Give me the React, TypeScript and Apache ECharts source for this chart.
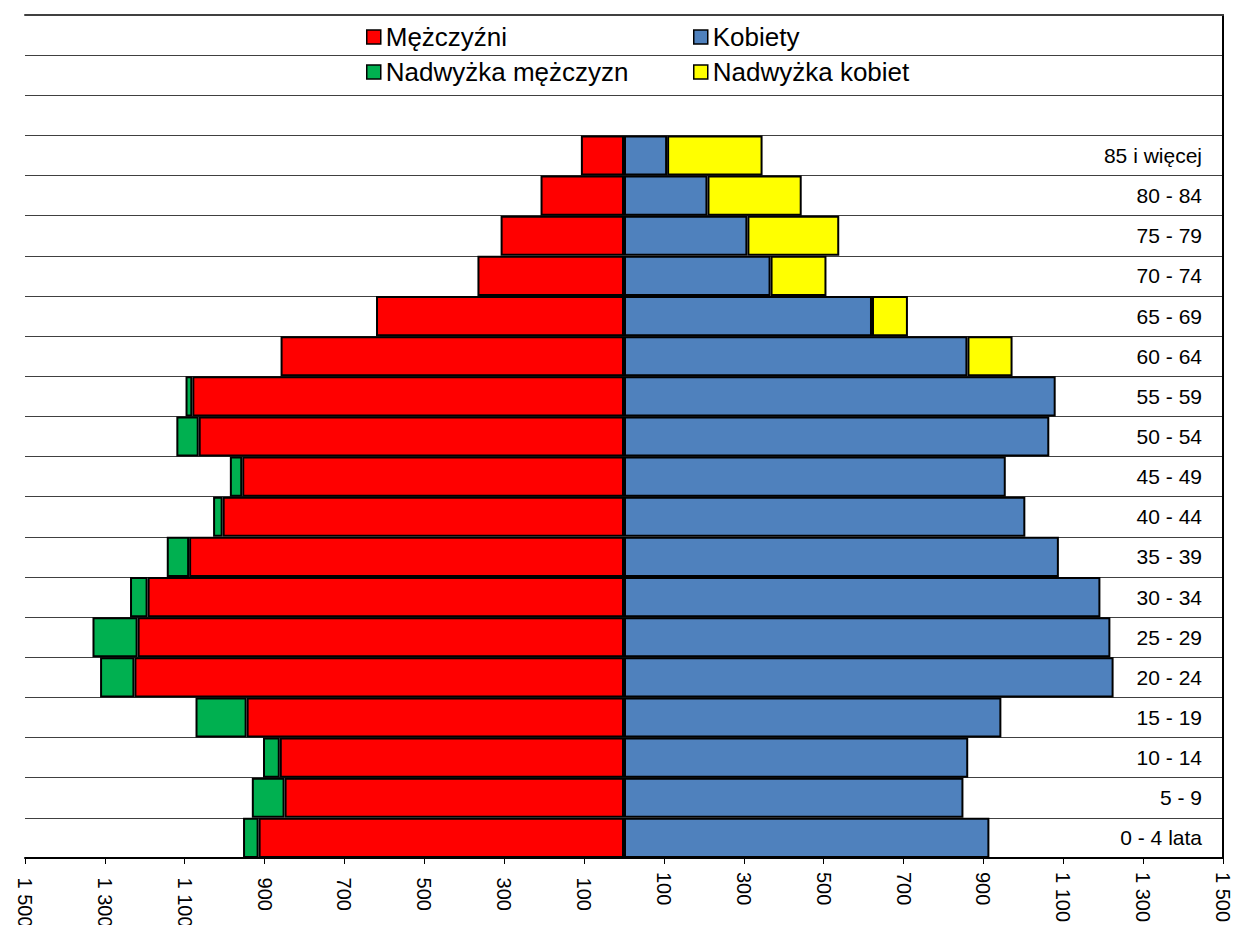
import React, { useEffect, useRef } from "react";
import * as echarts from "echarts";

const ageGroups = [
  "0 - 4 lata", "5 - 9", "10 - 14", "15 - 19", "20 - 24", "25 - 29",
  "30 - 34", "35 - 39", "40 - 44", "45 - 49", "50 - 54", "55 - 59",
  "60 - 64", "65 - 69", "70 - 74", "75 - 79", "80 - 84", "85 i więcej",
];
// common part (min of men and women), thousands
const common = [915, 850, 862, 945, 1226, 1218, 1193, 1089, 1005, 956, 1065, 1081, 860, 621, 367, 309, 209, 108];
const menSurplus = [39, 82, 42, 128, 86, 113, 44, 56, 24, 31, 56, 17, 0, 0, 0, 0, 0, 0];
const womenSurplus = [0, 0, 0, 0, 0, 0, 0, 0, 0, 0, 0, 0, 113, 90, 140, 230, 236, 239];
const xTicks = [-1500, -1300, -1100, -900, -700, -500, -300, -100, 100, 300, 500, 700, 900, 1100, 1300, 1500];
const legendNames = ["Mężczyźni", "Kobiety", "Nadwyżka mężczyzn", "Nadwyżka kobiet"];
const colors = { men: "#FF0000", women: "#4F81BD", menSur: "#00B050", womenSur: "#FFFF00" };

const FONT = "'Liberation Sans', Arial, sans-serif";

function fmt(v: number): string {
  const a = Math.abs(v);
  const s = a >= 1000 ? Math.floor(a / 1000) + " " + String(a % 1000).padStart(3, "0") : String(a);
  return v < 0 ? "\u00a0" + s : s;
}

export default function App() {
  const ref = useRef<HTMLDivElement>(null);
  useEffect(() => {
    if (!ref.current) return;
    const chart = echarts.init(ref.current, null, { renderer: "svg" });
    const yData = [...ageGroups, " ", "  ", "   "];
    const nz = (arr: number[], sign: number) => arr.map((v) => (v === 0 ? "-" : sign * v));
    const barStyle = (c: string) => ({ color: c, borderColor: "#000", borderWidth: 2 });
    const legendItem = (name: string, left: number, top: number, c: string) => ({
      show: true,
      data: [name],
      left,
      top,
      padding: 0,
      icon: "rect",
      itemWidth: 14,
      itemHeight: 14,
      itemStyle: { color: c, borderColor: "#000", borderWidth: 1.5 },
      textStyle: { fontSize: 26, color: "#000", fontFamily: FONT },
      selectedMode: false,
    });
    chart.setOption({
      animation: false,
      backgroundColor: "#fff",
      textStyle: { fontFamily: FONT },
      legend: [
        legendItem(legendNames[0], 366, 24, colors.men),
        legendItem(legendNames[1], 693, 24, colors.women),
        legendItem(legendNames[2], 366, 59, colors.menSur),
        legendItem(legendNames[3], 693, 59, colors.womenSur),
      ],
      grid: { left: 25, right: 12, top: 15, bottom: 67, containLabel: false, outerBoundsMode: "none" },
      xAxis: [
        {
          type: "value",
          min: -1500,
          max: 1500,
          position: "bottom",
          axisLine: { show: true, onZero: false, lineStyle: { color: "#000", width: 2 } },
          axisTick: { show: true, length: 6, customValues: xTicks, lineStyle: { color: "#000", width: 1 } },
          axisLabel: {
            customValues: xTicks,
            rotate: -90,
            margin: 14,
            fontSize: 20,
            color: "#000",
            fontFamily: FONT,
            formatter: (v: number) => fmt(v),
          },
          splitLine: { show: false },
        },
        {
          type: "value",
          min: -1500,
          max: 1500,
          position: "top",
          axisLine: { show: true, onZero: false, lineStyle: { color: "#404040", width: 2 } },
          axisTick: { show: false },
          axisLabel: { show: false },
          splitLine: { show: false },
        },
      ],
      yAxis: {
        type: "category",
        data: yData,
        position: "right",
        axisLine: { show: true, onZero: false, lineStyle: { color: "#000", width: 2 } },
        axisTick: { show: false },
        axisLabel: { inside: true, margin: 21, fontSize: 21, color: "#000", fontFamily: FONT },
        splitLine: { show: true, lineStyle: { color: "#404040", width: 1 } },
      },
      series: [
        { name: legendNames[0], type: "bar", stack: "pyr", barCategoryGap: "0%", data: nz(common, -1), itemStyle: barStyle(colors.men) },
        { name: legendNames[2], type: "bar", stack: "pyr", barCategoryGap: "0%", data: nz(menSurplus, -1), itemStyle: barStyle(colors.menSur) },
        { name: legendNames[1], type: "bar", stack: "pyr", barCategoryGap: "0%", data: nz(common, 1), itemStyle: barStyle(colors.women) },
        { name: legendNames[3], type: "bar", stack: "pyr", barCategoryGap: "0%", data: nz(womenSurplus, 1), itemStyle: barStyle(colors.womenSur) },
      ],
    });
    return () => chart.dispose();
  }, []);
  return (
    <div
      ref={ref}
      style={{ position: "absolute", left: 0, top: 0, width: 1235, height: 925, background: "#fff" }}
    />
  );
}
